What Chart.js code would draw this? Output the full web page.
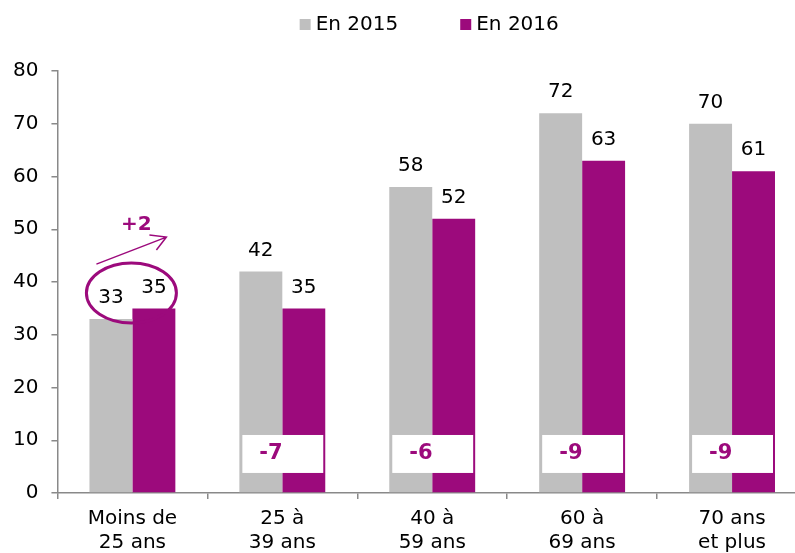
<!DOCTYPE html>
<html>
<head>
<meta charset="utf-8">
<script src="https://cdn.jsdelivr.net/npm/chart.js@4"></script>
<style>
  html, body { margin: 0; padding: 0; background: #fff; overflow: hidden; }
  #wrap { width: 858px; height: 553px; }
</style>
</head>
<body>
<div id="wrap"><canvas id="ageChart" width="858" height="553"></canvas></div>
<script>
// categories and values
const ageGroups = [['Moins de', '25 ans'], ['25 à', '39 ans'], ['40 à', '59 ans'], ['60 à', '69 ans'], ['70 ans', 'et plus']];
const values2015 = [33, 42, 58, 72, 70];
const values2016 = [35, 35, 52, 63, 61];
const seriesNames = ['En 2015', 'En 2016'];
const yTicks = [0, 10, 20, 30, 40, 50, 60, 70, 80];

const GREY = '#bfbfbf';
const PURPLE = '#9c0a7c';
const FONT = 'DejaVu Sans, Verdana, sans-serif';

// labels, delta boxes, ellipse/arrow and legend drawn on top
const overlayPlugin = {
    id: 'overlay',
    afterDatasetsDraw(chart) {
        const ctx = chart.ctx;
        const y = chart.scales.y;
        const m0 = chart.getDatasetMeta(0).data;
        const m1 = chart.getDatasetMeta(1).data;

        ctx.save();
        // value labels above bars
        ctx.font = '20px ' + FONT;
        ctx.fillStyle = '#000';
        ctx.textAlign = 'center';
        ctx.textBaseline = 'middle';
        [m0, m1].forEach((bars, d) => {
            const vals = d === 0 ? values2015 : values2016;
            bars.forEach((bar, i) => {
                ctx.fillText(String(vals[i]), bar.x, bar.y - 21);
            });
        });

        // white boxes with the change, for groups 2..5
        for (let i = 1; i < ageGroups.length; i++) {
            const diff = values2016[i] - values2015[i];
            const left = m0[i].x - m0[i].width / 2 + 3;
            const right = m1[i].x + m1[i].width / 2 - 2;
            const top = y.getPixelForValue(11);
            const bottom = y.getPixelForValue(3.8);
            ctx.fillStyle = '#fff';
            ctx.fillRect(left, top, right - left, bottom - top);
            ctx.fillStyle = PURPLE;
            ctx.font = 'bold 21px ' + FONT;
            ctx.textAlign = 'left';
            ctx.fillText(String(diff), left + 17, (top + bottom) / 2);
        }

        // ellipse around first group + arrow "+2"
        const cx = (m0[0].x + m1[0].x) / 2 - 1;
        const cy = y.getPixelForValue(37.9);
        ctx.strokeStyle = PURPLE;
        ctx.lineWidth = 3;
        ctx.beginPath();
        ctx.ellipse(cx, cy, 45, 30, 0, 0, Math.PI * 2);
        ctx.stroke();

        const x1 = cx - 35, y1 = cy - 29, x2 = cx + 35, y2 = cy - 56;
        ctx.lineWidth = 1.5;
        ctx.beginPath();
        ctx.moveTo(x1, y1);
        ctx.lineTo(x2, y2);
        ctx.moveTo(x2 - 17, y2 - 2);
        ctx.lineTo(x2, y2);
        ctx.lineTo(x2 - 10, y2 + 13);
        ctx.stroke();

        const diff0 = values2016[0] - values2015[0];
        ctx.fillStyle = PURPLE;
        ctx.font = 'bold 20px ' + FONT;
        ctx.textAlign = 'center';
        ctx.fillText((diff0 > 0 ? '+' : '') + diff0, cx + 5, cy - 68);

        // legend
        ctx.font = '20px ' + FONT;
        ctx.textAlign = 'left';
        const w0 = ctx.measureText(seriesNames[0]).width;
        const w1 = ctx.measureText(seriesNames[1]).width;
        const total = 10 + 6 + w0 + 62 + 10 + 6 + w1;
        let lx = (chart.chartArea.left + chart.chartArea.right) / 2 - total / 2 - 3;
        const ly = 24;
        [[GREY, seriesNames[0], w0], [PURPLE, seriesNames[1], w1]].forEach(([col, name, w]) => {
            ctx.fillStyle = col;
            ctx.fillRect(lx, ly - 5, 11, 11);
            ctx.fillStyle = '#000';
            ctx.fillText(name, lx + 16, ly + 1);
            lx += 16 + w + 62;
        });
        ctx.restore();
    }
};

new Chart(document.getElementById('ageChart'), {
    type: 'bar',
    data: {
        labels: ageGroups,
        datasets: [
            { label: seriesNames[0], data: values2015, backgroundColor: GREY },
            { label: seriesNames[1], data: values2016, backgroundColor: PURPLE }
        ]
    },
    options: {
        responsive: false,
        animation: false,
        layout: { padding: { top: 71, left: 0, right: 51, bottom: -10 } },
        datasets: { bar: { barPercentage: 1, categoryPercentage: 0.573 } },
        plugins: {
            legend: { display: false },
            tooltip: { enabled: false }
        },
        scales: {
            x: {
                grid: { drawOnChartArea: false, drawTicks: true, tickLength: 6, color: '#898989', lineWidth: 1.5 },
                border: { color: '#898989', width: 1.5 },
                ticks: { font: { family: FONT, size: 20, lineHeight: 1.2 }, color: '#000', padding: 8, maxRotation: 0 }
            },
            y: {
                min: 0,
                max: 80,
                afterBuildTicks: axis => { axis.ticks = yTicks.map(v => ({ value: v })); },
                grid: { drawOnChartArea: false, drawTicks: true, tickLength: 6, color: '#898989', lineWidth: 1.5 },
                border: { color: '#898989', width: 1.5 },
                ticks: { font: { family: FONT, size: 20 }, color: '#000', padding: 13 }
            }
        }
    },
    plugins: [overlayPlugin]
});
</script>
</body>
</html>
